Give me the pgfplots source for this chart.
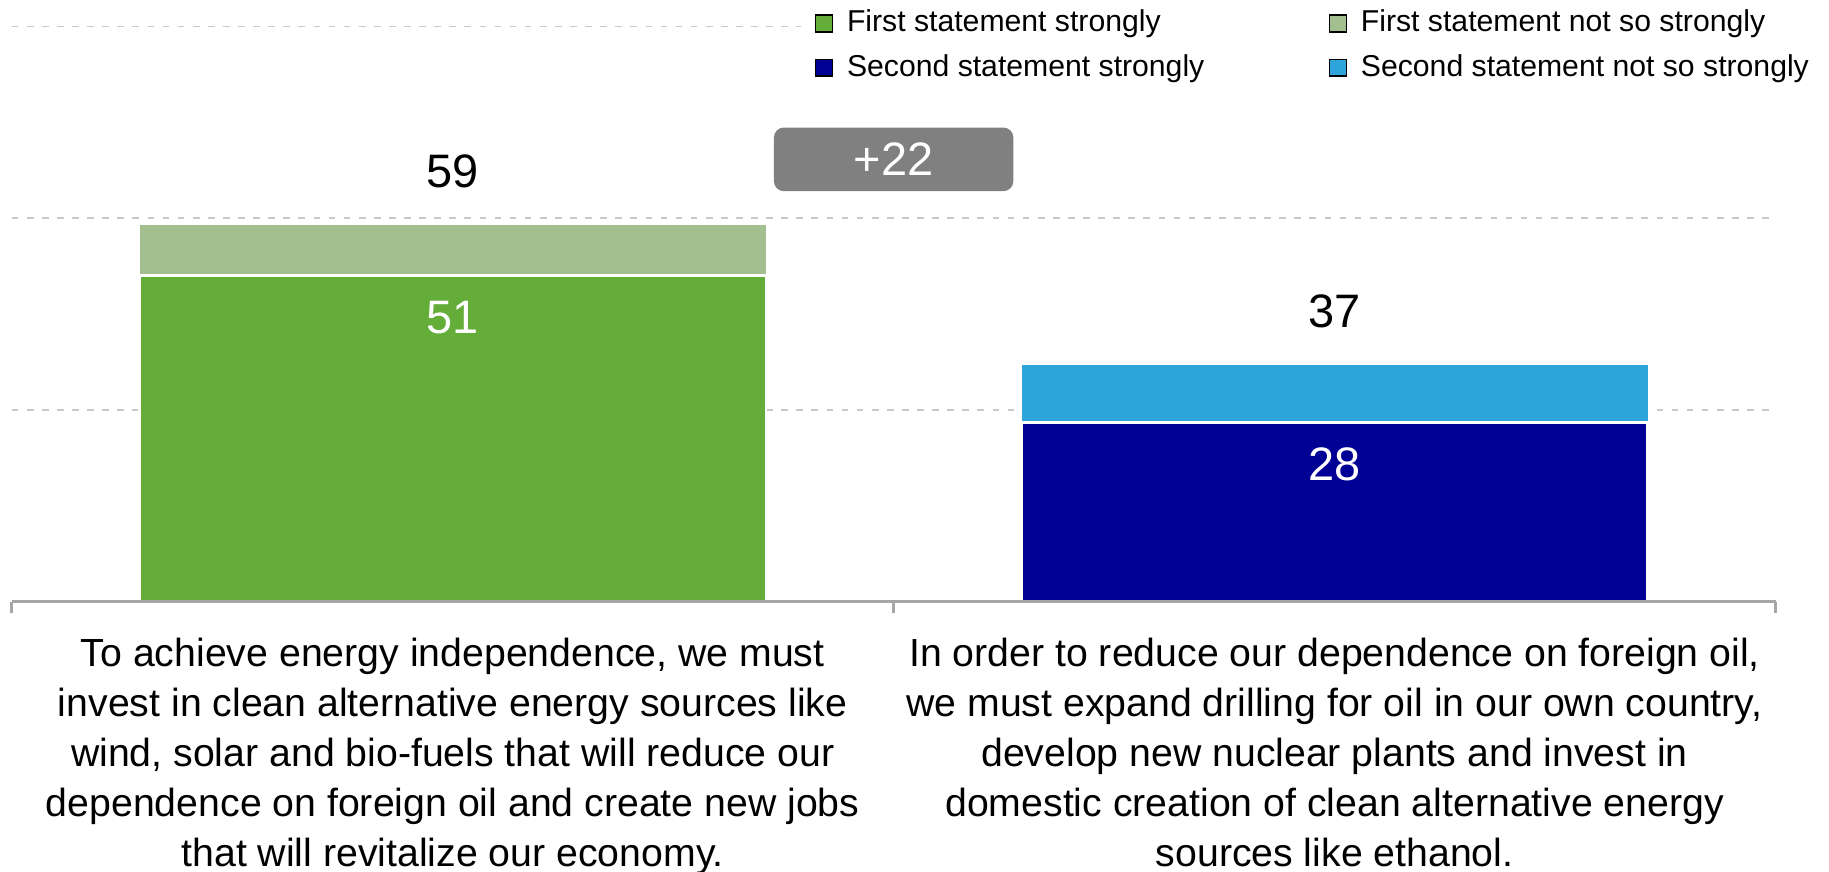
\documentclass[border={0pt -1pt 0pt 0pt}]{standalone}
\usepackage{fontspec}
\setmainfont{Liberation Sans}
\usepackage{pgfplots}
\pgfplotsset{compat=1.18}

\definecolor{grnDark}{RGB}{99,173,56}
\definecolor{grnLight}{RGB}{163,190,143}
\definecolor{bluDark}{RGB}{0,0,148}
\definecolor{bluLight}{RGB}{45,165,220}
\definecolor{boxgray}{RGB}{128,128,128}
\definecolor{gridgray}{RGB}{200,200,200}
\definecolor{axgray}{RGB}{166,166,166}

% grid behind the bars, axis line above them
\pgfplotsset{
  layers/grid below/.define layer set={axis background,axis grid,main,axis ticks,axis lines,axis tick labels,axis descriptions,axis foreground}{/pgfplots/layers/standard},
  total/.style={ybar, bar shift=0pt, bar width=0.71, draw=none,
    nodes near coords, nodes near coords align={center},
    every node near coord/.append style={yshift=16pt, text=black, font=\fontsize{14}{16.8}\selectfont}},
  part/.style={ybar, bar shift=0pt, bar width=0.71, draw=white, line width=0.7pt,
    nodes near coords, nodes near coords align={center},
    every node near coord/.append style={yshift=-12.5pt, text=white, font=\fontsize{14}{16.8}\selectfont}},
}

\begin{document}
\begin{tikzpicture}
\begin{axis}[
  set layers=grid below,
  width=526pt, height=171.5pt, scale only axis,
  xmin=-0.5, xmax=1.5, ymin=0, ymax=90,
  axis x line*=bottom, axis y line*=left,
  y axis line style={draw=none},
  x axis line style={axgray, line width=0.8pt},
  xtick={-0.5,0.5,1.5}, xticklabels={},
  x tick style={axgray, line width=0.8pt},
  tick align=outside, major tick length=3.5pt,
  ytick={30,60,90}, yticklabels={}, y tick style={draw=none},
  y tick label style={overlay},
  ymajorgrids,
  major grid style={gridgray, dash pattern=on 2pt off 2.5pt, line width=0.5pt},
  extra x ticks={0,1},
  extra x tick labels={
    {To achieve energy independence, we must\\invest in clean alternative energy sources like\\wind, solar and bio-fuels that will reduce our\\dependence on foreign oil and create new jobs\\that will revitalize our economy.},
    {In order to reduce our dependence on foreign oil,\\we must expand drilling for oil in our own country,\\develop new nuclear plants and invest in\\domestic creation of clean alternative energy\\sources like ethanol.}},
  extra x tick style={major tick length=0pt,
    tick label style={align=center, inner sep=0pt, font=\fontsize{11.7}{14.9}\selectfont, yshift=-10.7pt}},
  /pgf/number format/assume math mode=true,
  legend columns=2,
  legend cell align=left,
  legend image code/.code={\fill[#1] (0pt,-2.5pt) rectangle (5pt,2.5pt); \path (7.2pt,0pt);},
  legend style={at={(axis description cs:0.4656,1)}, anchor=north west,
    xshift=-9.6pt, yshift=8.1pt, draw=none, fill=white,
    inner xsep=4pt, inner ysep=1pt,
    font=\fontsize{9}{10.8}\selectfont, row sep=1.15pt,
    /tikz/every even column/.append style={column sep=35.1pt}},
]
% legend in the chart's order
\addlegendimage{fill=grnDark}
\addlegendentry{First statement strongly}
\addlegendimage{fill=grnLight}
\addlegendentry{First statement not so strongly}
\addlegendimage{fill=bluDark}
\addlegendentry{Second statement strongly}
\addlegendimage{fill=bluLight}
\addlegendentry{Second statement not so strongly}

% totals first, strong part over them
\addplot[total, fill=grnLight, forget plot] coordinates {(0,59)};
\addplot[part, fill=grnDark, forget plot] coordinates {(0,51)};
\addplot[total, fill=bluLight, forget plot] coordinates {(1,37)};
\addplot[part, fill=bluDark, forget plot] coordinates {(1,28)};

\node[fill=boxgray, text=white, rounded corners=3pt, minimum width=71.4pt,
  minimum height=19pt, inner sep=0pt, font=\fontsize{14}{16.8}\selectfont]
  at (axis cs:0.5,69.2) {+22};
\end{axis}
\end{tikzpicture}
\end{document}
